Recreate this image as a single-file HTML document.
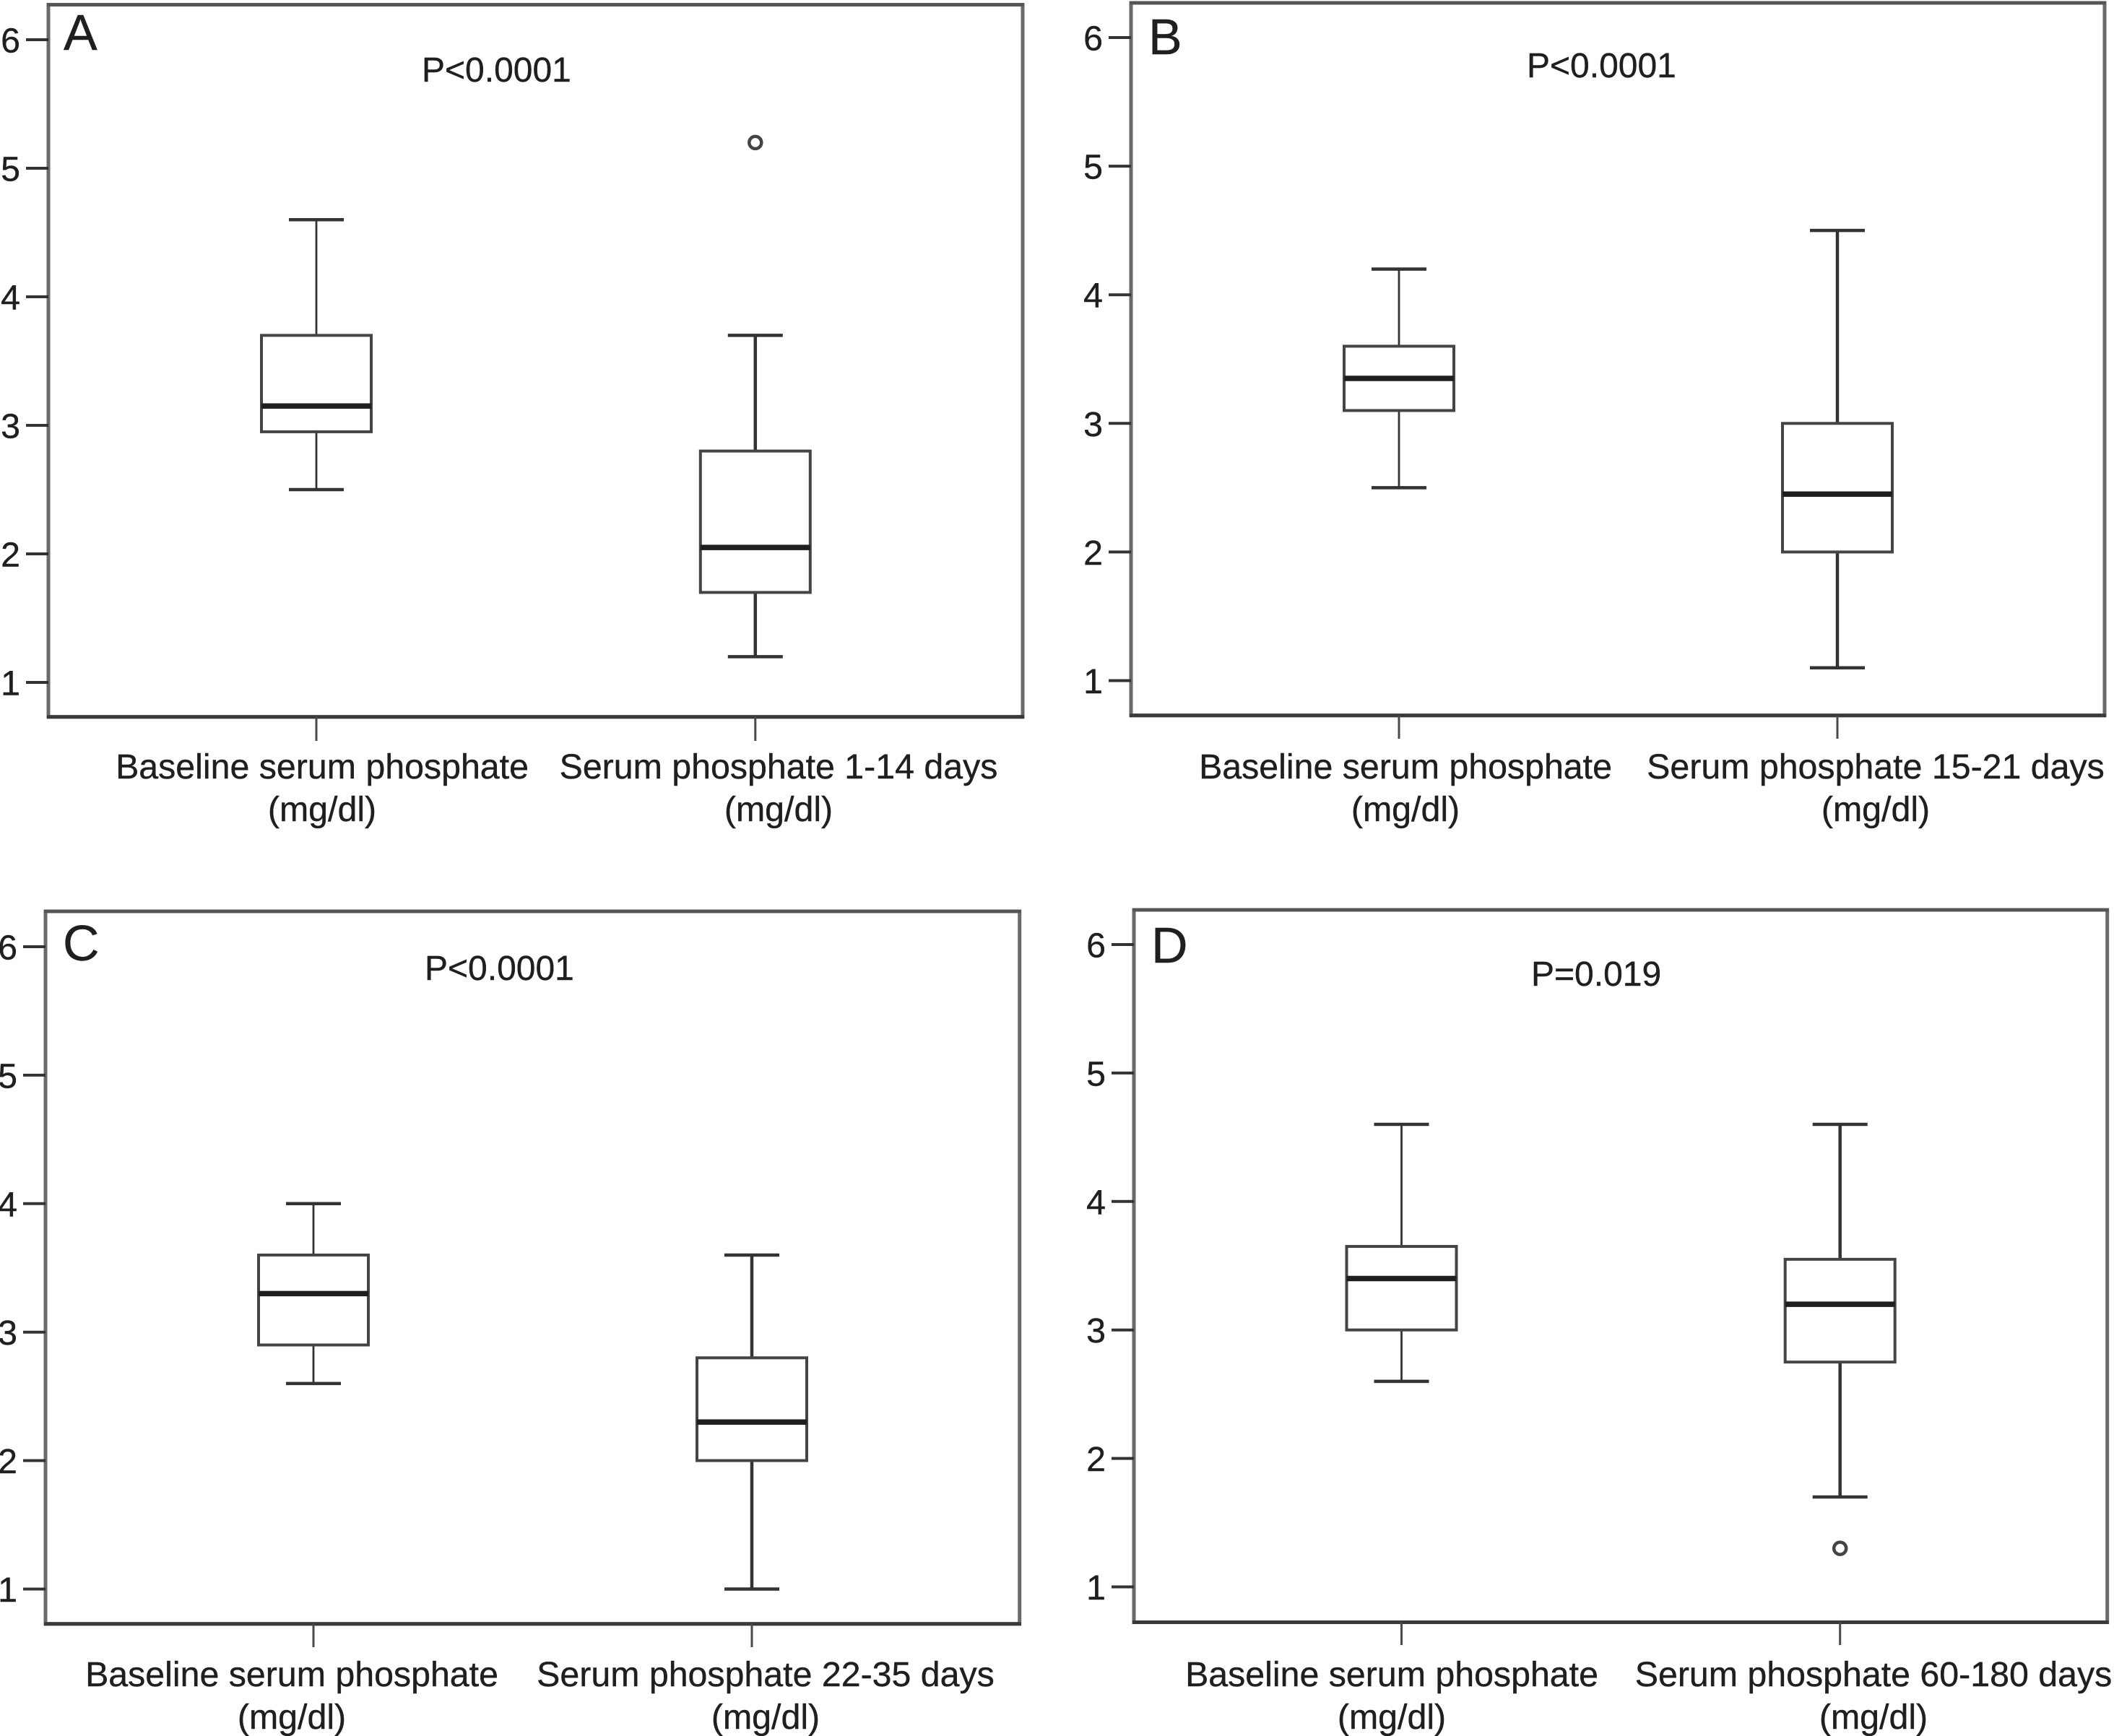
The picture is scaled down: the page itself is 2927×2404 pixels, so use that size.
<!DOCTYPE html>
<html lang="en">
<head>
<meta charset="utf-8">
<title>Serum phosphate box plots</title>
<style>
html,body{margin:0;padding:0;background:#fff;width:2927px;height:2404px;overflow:hidden}
svg{display:block}
text{font-family:"Liberation Sans",Arial,sans-serif;fill:#1f1f1f;stroke:#1f1f1f;stroke-width:0.4px}
.tick-label,.category-label{font-size:48.3px}
.p-label{font-size:48px}
.panel-letter{font-size:70px}
</style>
</head>
<body>
<svg id="figure" xmlns="http://www.w3.org/2000/svg" width="2927" height="2404" viewBox="0 0 2927 2404">
  <rect x="0" y="0" width="2927" height="2404" fill="#ffffff"/>
  <g id="panel-0">
    <text class="panel-letter" x="88" y="69">A</text>
    <text class="p-label" x="584" y="113">P&lt;0.0001</text>
  </g>
  <g id="panel-1">
    <text class="panel-letter" x="1590" y="75">B</text>
    <text class="p-label" x="2114" y="107">P&lt;0.0001</text>
  </g>
  <g id="panel-2">
    <text class="panel-letter" x="87" y="1330">C</text>
    <text class="p-label" x="588" y="1357">P&lt;0.0001</text>
  </g>
  <g id="panel-3">
    <text class="panel-letter" x="1594" y="1333">D</text>
    <text class="p-label" x="2120" y="1365">P=0.019</text>
  </g>
</svg>
<script>
const yTickValues = [1, 2, 3, 4, 5, 6];
const baselineCategory = "Baseline serum phosphate";
const unitLabel = "(mg/dl)";
const followupCategories = ["Serum phosphate 1-14 days", "Serum phosphate 15-21 days", "Serum phosphate 22-35 days", "Serum phosphate 60-180 days"];

const baselineLow = [2.5, 2.5, 2.6, 2.6];
const baselineQ1 = [2.95, 3.1, 2.9, 3.0];
const baselineMedian = [3.15, 3.35, 3.3, 3.4];
const baselineQ3 = [3.7, 3.6, 3.6, 3.65];
const baselineHigh = [4.6, 4.2, 4.0, 4.6];

const followupLow = [1.2, 1.1, 1.0, 1.7];
const followupQ1 = [1.7, 2.0, 2.0, 2.75];
const followupMedian = [2.05, 2.45, 2.3, 3.2];
const followupQ3 = [2.8, 3.0, 2.8, 3.55];
const followupHigh = [3.7, 4.5, 3.6, 4.6];
const followupOutliers = [[5.2], [], [], [1.3]];

const SVG_NS = "http://www.w3.org/2000/svg";

function make(tag, parent, attrs) {
  const el = document.createElementNS(SVG_NS, tag);
  for (const k in attrs) el.setAttribute(k, attrs[k]);
  parent.appendChild(el);
  return el;
}

function drawBox(g, cx, yScale, low, q1, med, q3, high, whiskerWidth) {
  const boxHalf = 76;
  const capHalf = 38;
  let el;
  el = make("line", g, {x1: cx, x2: cx, y1: yScale(high), y2: yScale(q3), stroke: "#333333", "stroke-width": whiskerWidth});
  
  
  el = make("line", g, {x1: cx, x2: cx, y1: yScale(q1), y2: yScale(low), stroke: "#333333", "stroke-width": whiskerWidth});
  
  
  el = make("line", g, {x1: cx - capHalf, x2: cx + capHalf, y1: yScale(high), y2: yScale(high), stroke: "#333333", "stroke-width": 4.5});
  
  
  el = make("line", g, {x1: cx - capHalf, x2: cx + capHalf, y1: yScale(low), y2: yScale(low), stroke: "#333333", "stroke-width": 4.5});
  
  
  el = make("rect", g, {x: cx - boxHalf, y: yScale(q3), width: boxHalf * 2, height: yScale(q1) - yScale(q3), fill: "#ffffff", stroke: "#444444", "stroke-width": 4});
  
  
  el = make("line", g, {x1: cx - boxHalf, x2: cx + boxHalf, y1: yScale(med), y2: yScale(med), stroke: "#1f1f1f", "stroke-width": 7.5});
  
  
}

function drawCategory(g, cx, baselineY, lineGap, firstLine) {
  let el;
  el = make("text", g, {class: "category-label", x: cx, y: baselineY, "text-anchor": "middle"});
  el.textContent = firstLine;
  
  
  el = make("text", g, {class: "category-label", x: cx, y: baselineY + lineGap, "text-anchor": "middle"});
  el.textContent = unitLabel;
  
  
}

function drawPanel(i, left, right, top, bottom, y6, y1, cx1, cx2, tickBottom, labelX1, labelX2, labelY) {
  const g = document.getElementById("panel-" + i);
  const yScale = v => y1 - (v - 1) * (y1 - y6) / 5;
  let el;

  el = make("rect", g, {x: left, y: top, width: right - left, height: bottom - top, fill: "none", stroke: "#6a6a6a", "stroke-width": 5});
  
  
  el = make("line", g, {x1: left - 2, x2: right + 2, y1: top, y2: top, stroke: "#555555", "stroke-width": 4.5});
  
  
  el = make("line", g, {x1: left - 2, x2: right + 2, y1: bottom, y2: bottom, stroke: "#3a3a3a", "stroke-width": 5});
  
  

  yTickValues.forEach(v => {
    const y = yScale(v);
    const mark = make("line", g, {x1: left - 31, x2: left, y1: y, y2: y, stroke: "#333333", "stroke-width": 4});
    
    
    const label = make("text", g, {class: "tick-label", x: left - 39, y: y + 17.5, "text-anchor": "end"});
    label.textContent = String(v);
    
    
  });

  [cx1, cx2].forEach(cx => {
    const mark = make("line", g, {x1: cx, x2: cx, y1: bottom, y2: tickBottom, stroke: "#4a4a4a", "stroke-width": 3});
    
    
  });

  drawBox(g, cx1, yScale, baselineLow[i], baselineQ1[i], baselineMedian[i], baselineQ3[i], baselineHigh[i], 2.8);
  drawBox(g, cx2, yScale, followupLow[i], followupQ1[i], followupMedian[i], followupQ3[i], followupHigh[i], 4.5);

  followupOutliers[i].forEach(v => {
    const dot = make("circle", g, {cx: cx2, cy: yScale(v), r: 8.5, fill: "#ffffff", stroke: "#444444", "stroke-width": 4.5});
    
    
  });

  drawCategory(g, labelX1, labelY, 59, baselineCategory);
  drawCategory(g, labelX2, labelY, 59, followupCategories[i]);
}

drawPanel(0, 67, 1416, 6.5, 992.7, 55, 945, 438, 1045.8, 1026, 446, 1078, 1078);
drawPanel(1, 1566, 2914, 4, 990.7, 52, 942.5, 1937, 2544, 1023, 1946, 2597, 1078);
drawPanel(2, 63, 1411.7, 1262, 2248.7, 1311, 2200.5, 434, 1041, 2281, 404, 1060, 2335);
drawPanel(3, 1570, 2917.7, 1260, 2246.5, 1308, 2197.5, 1940.5, 2547.7, 2278, 1927, 2594, 2335);
</script>
</body>
</html>
